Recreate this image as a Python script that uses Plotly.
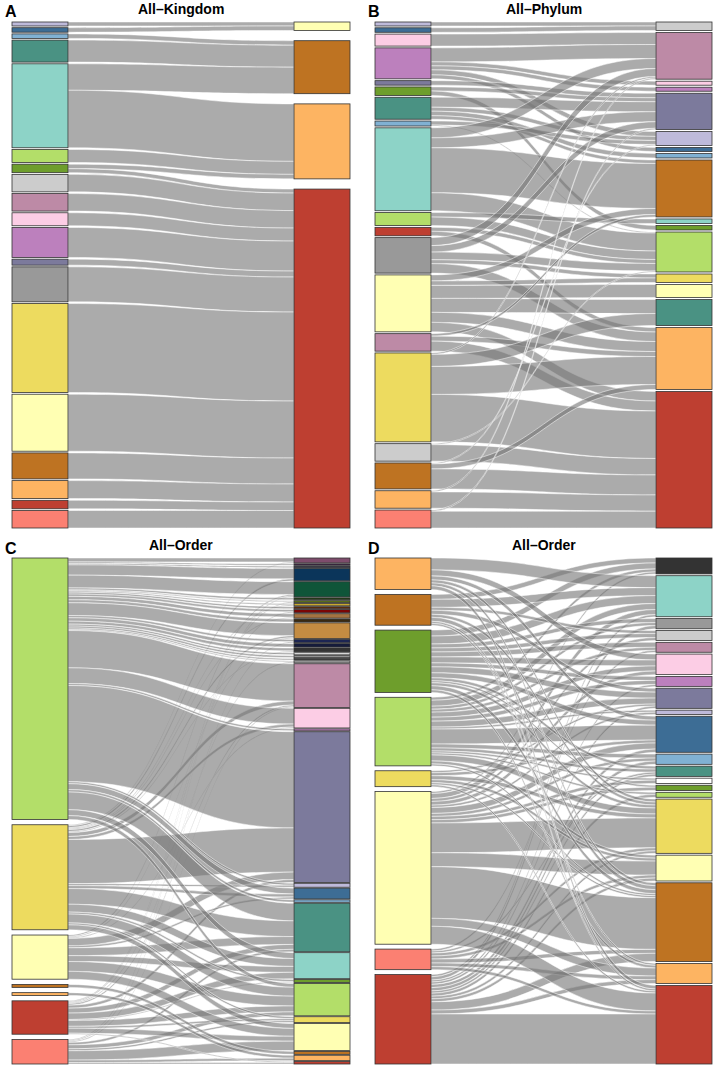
import plotly.graph_objects as go

FIG_W, FIG_H = 714, 1066

# ---------------- colours of the categories ----------------
COLORS = {
    "lavender": "#BEBADA", "dblue": "#3D6D95", "lblue": "#80B1D3", "teal": "#4A9283",
    "aqua": "#8DD3C7", "lgreen": "#B3DE69", "olive": "#6E9E2C", "lgrey": "#CCCCCC",
    "mauve": "#BD8AA6", "pink": "#FCCDE5", "purple": "#BC80BD", "slate": "#7C7A9C",
    "grey": "#999999", "yellow": "#EDDB5F", "lyellow": "#FFFFB3", "brown": "#BE7322",
    "orange": "#FDB462", "red": "#BE3F31", "salmon": "#FB8072",
    "o_dmauve": "#7E4C6C", "o_dk1": "#3B2240", "o_dk2": "#1B1B3D", "o_navy": "#0B355A",
    "o_dgreen": "#0F5539", "o_dk3": "#1F3A12", "o_olive2": "#5A7318", "o_gold": "#C9A82E",
    "o_dbrown": "#5E2A0A", "o_dred": "#7B0505", "o_brown2": "#A47341", "o_dk4": "#3A2A10",
    "o_tan": "#C48C42", "o_navy2": "#1C2553", "o_dnavy": "#151B3B", "o_dgrey": "#333333",
    "o_white": "#FFFFFF", "o_grey2": "#9A9A9A", "o_dgrey2": "#444444", "o_lgrey2": "#BBBBBB",
}

# ---------------- Panel A : All-Kingdom ----------------
A_LEFT = ["lavender", "dblue", "lblue", "teal", "aqua", "lgreen", "olive", "lgrey", "mauve",
          "pink", "purple", "slate", "grey", "yellow", "lyellow", "brown", "orange", "red", "salmon"]
A_RIGHT = ["lyellow", "brown", "orange", "red"]
A_SRC = ["lavender", "dblue", "lblue", "teal", "aqua", "aqua", "lgreen", "olive", "olive",
         "lgrey", "mauve", "pink", "purple", "slate", "grey", "yellow", "lyellow", "brown",
         "orange", "red", "salmon"]
A_TGT = ["lyellow", "lyellow", "brown", "brown", "brown", "orange", "orange", "orange", "red",
         "red", "red", "red", "red", "red", "red", "red", "red", "red", "red", "red", "red"]
A_VAL = [4, 4.5, 4.5, 22, 26.5, 57.5, 13, 4.5, 4,
         17.5, 17.5, 13, 30, 6, 35, 89, 57, 26, 18, 8.5, 17.5]

# ---------------- Panel B : All-Phylum ----------------
B_LEFT = ["lavender", "dblue", "pink", "purple", "slate", "olive", "teal", "lblue", "aqua",
          "lgreen", "red", "grey", "lyellow", "mauve", "yellow", "lgrey", "brown", "orange", "salmon"]
B_RIGHT = ["lgrey", "mauve", "pink", "purple", "slate", "lavender", "dblue", "lblue", "brown",
           "aqua", "olive", "lgreen", "yellow", "lyellow", "teal", "orange", "red"]
B_SRC = ["lavender", "dblue", "pink",
         "purple", "purple", "purple", "purple", "purple",
         "slate", "olive", "olive",
         "teal", "teal", "teal", "teal",
         "lblue", "lblue",
         "aqua", "aqua", "aqua", "aqua",
         "lgreen", "lgreen", "red", "red",
         "grey", "grey", "grey", "grey", "grey",
         "lyellow", "lyellow", "lyellow", "lyellow", "lyellow", "lyellow",
         "mauve", "mauve", "mauve",
         "yellow", "yellow", "yellow", "yellow",
         "lgrey", "lgrey", "brown", "brown", "brown",
         "orange", "orange", "salmon", "salmon"]
B_TGT = ["lgrey", "lgrey", "mauve",
         "mauve", "pink", "purple", "lavender", "dblue",
         "slate", "slate", "olive",
         "slate", "lavender", "lblue", "brown",
         "lavender", "lgreen",
         "mauve", "slate", "brown", "lgreen",
         "aqua", "lgreen", "lgreen", "orange",
         "mauve", "slate", "yellow", "lgreen", "orange",
         "brown", "yellow", "lyellow", "teal", "orange", "red",
         "brown", "orange", "red",
         "mauve", "teal", "orange", "red",
         "lgreen", "red", "lavender", "orange", "red",
         "mauve", "red", "slate", "red"]
B_VAL = [4, 4.5, 12,
         14, 4, 4, 5, 4,
         4.5, 4, 4.5,
         10, 4, 4.5, 3.5,
         4, 1,
         10, 10, 45, 18,
         4.5, 8.5, 4, 4.5,
         8, 6.5, 4, 7.5, 9.5,
         6, 4.5, 13, 14, 10, 9.5,
         2.5, 5, 10,
         1.5, 12, 28, 47.5,
         1, 16.5, 1, 5, 20,
         1.2, 16.3, 1.2, 16.8]

# ---------------- Panel C : All-Order ----------------
C_LEFT = ["lgreen", "yellow", "lyellow", "brown", "orange", "red", "salmon"]
C_RIGHT = ["o_dmauve", "o_dk1", "o_dk2", "o_navy", "o_dgreen", "o_dk3", "o_olive2", "o_gold",
           "o_dbrown", "o_dred", "o_brown2", "o_dk4", "o_tan", "o_navy2", "o_dnavy", "o_dgrey",
           "o_white", "o_grey2", "o_dgrey2", "o_lgrey2", "mauve", "pink", "purple", "slate",
           "lavender", "dblue", "lblue", "teal", "aqua", "olive", "lgreen", "yellow", "lyellow",
           "brown", "orange", "red"]
C_SRC = ["lgreen", "yellow", "lgreen", "lgreen", "lgreen", "yellow",
         "lgreen", "lyellow", "salmon", "lgreen", "lgreen", "red", "lgreen", "yellow",
         "lgreen", "lgreen", "red", "lgreen", "yellow", "lgreen",
         "lgreen", "yellow", "lyellow", "lgreen", "salmon", "lgreen", "lgreen", "yellow",
         "lgreen", "lgreen", "lgreen", "lgreen", "red",
         "lgreen", "yellow", "red", "salmon",
         "lgreen", "yellow", "lyellow", "lgreen",
         "lgreen", "yellow", "lyellow", "red",
         "lgreen", "yellow", "lgreen", "yellow", "lyellow", "lgreen",
         "lgreen", "yellow", "lyellow", "red", "salmon",
         "lgreen", "yellow", "lyellow", "red",
         "yellow", "red",
         "lgreen", "yellow", "lyellow", "red", "salmon",
         "yellow", "red", "salmon",
         "yellow", "lyellow", "red", "salmon",
         "brown", "orange", "salmon", "red", "salmon"]
C_TGT = ["o_dmauve", "o_dmauve", "o_dk1", "o_dk2", "o_navy", "o_navy",
         "o_dgreen", "o_dgreen", "o_dgreen", "o_dk3", "o_olive2", "o_olive2", "o_gold", "o_gold",
         "o_dbrown", "o_dred", "o_dred", "o_brown2", "o_brown2", "o_dk4",
         "o_tan", "o_tan", "o_tan", "o_navy2", "o_navy2", "o_dnavy", "o_dgrey", "o_dgrey",
         "o_white", "o_grey2", "o_dgrey2", "o_lgrey2", "o_lgrey2",
         "mauve", "mauve", "mauve", "mauve",
         "pink", "pink", "pink", "purple",
         "slate", "slate", "slate", "slate",
         "lavender", "lavender", "dblue", "dblue", "dblue", "lblue",
         "teal", "teal", "teal", "teal", "teal",
         "aqua", "aqua", "aqua", "aqua",
         "olive", "olive",
         "lgreen", "lgreen", "lgreen", "lgreen", "lgreen",
         "yellow", "yellow", "yellow",
         "lyellow", "lyellow", "lyellow", "lyellow",
         "brown", "orange", "orange", "red", "red"]
C_VAL = [4, 1, 1.5, 1.5, 10.5, 2,
         13, 1.5, 1, 2, 1, 1, 1.3, 1,
         2, 2.3, 1, 3.5, 1, 3,
         13, 2, 1, 2.3, 1, 3.5, 3, 1,
         2, 2, 1.5, 1, 1,
         38, 4, 1.5, 1,
         16, 3, 1, 2,
         98, 45, 7.5, 3,
         2, 2, 6, 3, 2, 2.5,
         18, 16, 8, 5, 2.5,
         6, 8, 6, 6.5,
         2, 1,
         4, 9, 10, 6, 4,
         2, 2, 2,
         5, 8, 5, 9.5,
         3, 3, 2.5, 1, 1.5]

# ---------------- Panel D : All-Order ----------------
D_LEFT = ["orange", "brown", "olive", "lgreen", "yellow", "lyellow", "salmon", "red"]
D_RIGHT = ["o_dgrey", "aqua", "grey", "lgrey", "mauve", "pink", "purple", "slate", "lavender",
           "dblue", "lblue", "teal", "o_white", "olive", "lgreen", "yellow", "lyellow", "brown",
           "orange", "red"]
D_SRC = ["brown", "olive", "lgreen", "lyellow",
         "orange", "brown", "olive", "lgreen", "lyellow", "red",
         "olive", "lgreen", "red",
         "brown", "olive", "lyellow",
         "olive", "lgreen", "salmon",
         "orange", "olive", "lgreen", "lyellow",
         "olive", "lgreen", "red",
         "brown", "olive", "lgreen", "yellow", "red",
         "lgreen", "lyellow",
         "orange", "olive", "lgreen", "yellow", "lyellow", "red",
         "lgreen", "lyellow", "red",
         "olive", "lgreen", "salmon", "red",
         "lgreen", "lyellow",
         "olive", "lyellow",
         "lgreen", "red",
         "orange", "brown", "olive", "lgreen", "yellow", "lyellow", "salmon", "red",
         "lgreen", "yellow", "lyellow", "salmon", "red",
         "orange", "brown", "olive", "lgreen", "yellow", "lyellow", "salmon", "red",
         "brown", "olive", "lyellow", "salmon", "red",
         "orange", "brown", "yellow", "lyellow", "salmon", "red"]
D_TGT = ["o_dgrey", "o_dgrey", "o_dgrey", "o_dgrey",
         "aqua", "aqua", "aqua", "aqua", "aqua", "aqua",
         "grey", "grey", "grey",
         "lgrey", "lgrey", "lgrey",
         "mauve", "mauve", "mauve",
         "pink", "pink", "pink", "pink",
         "purple", "purple", "purple",
         "slate", "slate", "slate", "slate", "slate",
         "lavender", "lavender",
         "dblue", "dblue", "dblue", "dblue", "dblue", "dblue",
         "lblue", "lblue", "lblue",
         "teal", "teal", "teal", "teal",
         "o_white", "o_white",
         "olive", "olive",
         "lgreen", "lgreen",
         "yellow", "yellow", "yellow", "yellow", "yellow", "yellow", "yellow", "yellow",
         "lyellow", "lyellow", "lyellow", "lyellow", "lyellow",
         "brown", "brown", "brown", "brown", "brown", "brown", "brown", "brown",
         "orange", "orange", "orange", "orange", "orange",
         "red", "red", "red", "red", "red", "red"]
D_VAL = [5, 6, 3, 2,
         12, 8, 8, 6, 5, 2.3,
         4, 3, 3.3,
         3, 4, 3,
         5, 3, 2,
         6, 6, 5, 3.7,
         4, 4, 2,
         4, 6, 6, 2, 2.3,
         2, 2.3,
         4, 5, 15, 3, 6, 3.3,
         4, 3, 3.3,
         3, 3, 2, 2.3,
         2, 3.3,
         2, 3.3,
         2, 3,
         3, 3, 3, 6, 4, 30, 3, 2.6,
         3, 3, 14, 3, 3,
         3, 4, 4, 2, 2, 52, 4, 8.3,
         2, 2.7, 8, 3.6, 4,
         3.7, 2, 2, 18, 3.1, 50.3]

TITLES = ["All\u2013Kingdom", "All\u2013Phylum", "All\u2013Order", "All\u2013Order"]
LETTERS = ["A", "B", "C", "D"]


def sankey_trace(left, right, src, tgt, val, box, pad, thick):
    x0, x1, y0, y1 = box
    wp, hp = x1 - x0, y1 - y0
    li = {n: i for i, n in enumerate(left)}
    ri = {n: len(left) + i for i, n in enumerate(right)}
    lv = [sum(v for s, v in zip(src, val) if s == n) for n in left]
    rv = [sum(v for t, v in zip(tgt, val) if t == n) for n in right]
    ky = min((hp - (len(left) - 1) * pad) / sum(lv), (hp - (len(right) - 1) * pad) / sum(rv))

    def centers(vals):
        hs = [v * ky for v in vals]
        gap = (hp - sum(hs)) / (len(vals) - 1)
        ys, cur = [], 0.0
        for h in hs:
            ys.append((cur + h / 2) / hp)
            cur += h + gap
        return ys

    ys = centers(lv) + centers(rv)
    xs = [thick / 2 / wp] * len(left) + [1 - thick / 2 / wp] * len(right)
    colors = [COLORS[n] for n in left] + [COLORS[n] for n in right]
    return go.Sankey(
        arrangement="fixed",
        domain=dict(x=[x0 / FIG_W, x1 / FIG_W], y=[1 - y1 / FIG_H, 1 - y0 / FIG_H]),
        node=dict(label=[""] * (len(left) + len(right)), x=xs, y=ys, pad=pad,
                  thickness=thick, color=colors,
                  line=dict(color="#333333", width=0.8), hoverinfo="none"),
        link=dict(source=[li[s] for s in src], target=[ri[t] for t in tgt], value=val,
                  color="rgba(120,120,120,0.62)", line=dict(color="white", width=0.5),
                  hoverinfo="none"),
    )


BOXES = [(12, 350, 22, 528), (375, 712, 22, 528), (12, 350, 558, 1064), (375, 712, 558, 1064)]
PADS = [1.7, 1.8, 0.9, 1.8]

fig = go.Figure()
fig.add_trace(sankey_trace(A_LEFT, A_RIGHT, A_SRC, A_TGT, A_VAL, BOXES[0], PADS[0], 56))
fig.add_trace(sankey_trace(B_LEFT, B_RIGHT, B_SRC, B_TGT, B_VAL, BOXES[1], PADS[1], 56))
fig.add_trace(sankey_trace(C_LEFT, C_RIGHT, C_SRC, C_TGT, C_VAL, BOXES[2], PADS[2], 56))
fig.add_trace(sankey_trace(D_LEFT, D_RIGHT, D_SRC, D_TGT, D_VAL, BOXES[3], PADS[3], 56))

for i, (x0, x1, y0, y1) in enumerate(BOXES):
    fig.add_annotation(text="<b>" + TITLES[i] + "</b>", x=(x0 + x1) / 2 / FIG_W,
                       y=1 - (y0 - 13) / FIG_H, xref="paper", yref="paper",
                       showarrow=False, xanchor="center", yanchor="middle",
                       font=dict(family="Liberation Sans, Arial, sans-serif", size=14, color="black"))
    fig.add_annotation(text="<b>" + LETTERS[i] + "</b>", x=(x0 - 9) / FIG_W,
                       y=1 - (y0 - 10) / FIG_H, xref="paper", yref="paper",
                       showarrow=False, xanchor="left", yanchor="middle",
                       font=dict(family="Liberation Sans, Arial, sans-serif", size=16, color="black"))

fig.update_layout(width=FIG_W, height=FIG_H, autosize=False,
                  margin=dict(l=0, r=0, t=0, b=0),
                  paper_bgcolor="white", plot_bgcolor="white", showlegend=False)

fig.write_html("out.html", config={"displayModeBar": False},
               post_script="document.body.style.margin='0px';document.body.style.overflow='hidden';")
